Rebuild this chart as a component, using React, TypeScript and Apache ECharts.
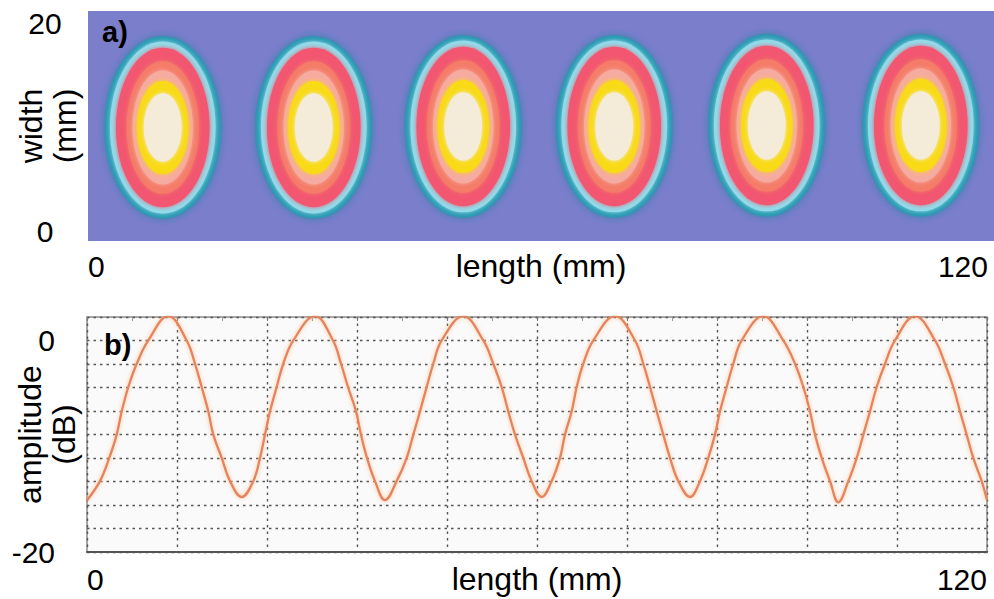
import React, { useEffect, useRef } from "react";
import * as echarts from "echarts";

// ---------- data ----------
// panel a: spot centres (mm) and ring half-axes (mm), outermost first
const spotX = [9.9, 29.9, 49.7, 69.7, 89.9, 110.3];
const spotY = [10.0, 10.0, 10.1, 10.1, 10.2, 10.2];
const ringRx = [7.7, 7.0, 6.2, 4.8, 4.0, 3.4, 2.5];
const ringRy = [8.8, 8.3, 7.7, 6.4, 5.5, 4.5, 3.3];
const ringColors = ["#2a9ab2", "#93dbe9", "#f2566f", "#f47c68", "#f6aba0", "#f8da14", "#f4ecd8"];

// panel b: amplitude (dB) along length (mm)
const lengthMm = [
  0, 1.73, 2.97, 3.96, 4.63, 5.51, 6.63, 8.17, 10.84,
  13.29, 14.4, 15.29, 16.17, 16.84, 17.96, 19.07, 20.63,
  22.17, 23.07, 23.73, 24.4, 25.29, 26.17, 27.51, 30.4,
  32.8, 33.87, 34.8, 35.87, 36.53, 37.33, 38.4, 39.73,
  41.29, 42.63, 43.51, 44.4, 45.29, 46.17, 47.29, 50.17,
  52.84, 54.17, 55.29, 56.17, 57.07, 58.17, 59.29, 60.63,
  61.95, 63.07, 63.73, 64.63, 65.29, 66.17, 67.51, 70.4,
  73.07, 74.17, 75.07, 75.96, 76.84, 77.73, 78.84, 80.4,
  81.73, 82.84, 83.73, 84.4, 85.29, 86.17, 87.29, 90.17,
  92.84, 94.4, 95.51, 96.4, 97.07, 97.96, 99.07, 100.17,
  101.51, 102.63, 103.51, 104.4, 105.29, 106.4, 107.73, 110.4,
  113.07, 114.4, 115.51, 116.4, 117.29, 118.17, 119.29, 120,
];
const amplitudeDb = [
  -15.1, -13.3, -11.1, -8.9, -6.7, -4.4, -2.2, 0, 2.3,
  0, -2.2, -4.4, -6.7, -8.9, -11.1, -13.3, -14.8,
  -13.3, -11.1, -8.9, -6.7, -4.4, -2.2, 0, 2.3,
  0, -2.2, -4.4, -6.7, -8.9, -11.1, -13.3, -15.1,
  -13.3, -11.1, -8.9, -6.7, -4.4, -2.2, 0, 2.3,
  0, -2.2, -4.4, -6.7, -8.9, -11.1, -13.3, -14.8,
  -13.3, -11.1, -8.9, -6.7, -4.4, -2.2, 0, 2.3,
  0, -2.2, -4.4, -6.7, -8.9, -11.1, -13.3, -14.8,
  -13.3, -11.1, -8.9, -6.7, -4.4, -2.2, 0, 2.3,
  0, -2.2, -4.4, -6.7, -8.9, -11.1, -13.3, -15.3,
  -13.3, -11.1, -8.9, -6.7, -4.4, -2.2, 0, 2.3,
  0, -2.2, -4.4, -6.7, -8.9, -11.1, -13.3, -15.1,
];

const xTicks = [0, 120];
const widthTicks = [0, 20];
const ampTicks = [0, -20];

const FONT = '"Liberation Sans", Arial, Helvetica, sans-serif';
const FS = 30;
const NAME_FS = 32;

export default function App() {
  const ref = useRef<HTMLDivElement>(null);

  useEffect(() => {
    if (!ref.current) return;
    const chart = echarts.init(ref.current, null, { renderer: "svg" });

    const labelBase = { color: "#000", fontFamily: FONT, fontSize: FS };
    const nameBase = { color: "#000", fontFamily: FONT, fontSize: NAME_FS };
    const dotted = { color: "#555", width: 1.4, type: [2.5, 4] as any };

    const option: any = {
      animation: false,
      backgroundColor: "#fff",
      grid: [
        {
          left: 88, top: 11, width: 906, height: 230,
          containLabel: false, outerBoundsMode: "none",
          show: true, backgroundColor: "#7b7ecb", borderWidth: 0,
        },
        {
          left: 87, top: 317, width: 900, height: 235,
          containLabel: false, outerBoundsMode: "none",
          show: true, backgroundColor: "#fafafb", borderColor: "#8c8c8c", borderWidth: 1.5,
        },
      ],
      xAxis: [
        {
          gridIndex: 0, type: "value", min: 0, max: 120,
          axisLine: { show: false, onZero: false }, axisTick: { show: false }, splitLine: { show: false },
          axisLabel: {
            ...labelBase, margin: 10, customValues: xTicks,
            alignMinLabel: "left", alignMaxLabel: "right", padding: [0, 6, 0, 0],
          },
          name: "length (mm)", nameLocation: "middle", nameGap: 9, nameMoveOverlap: false,
          nameTextStyle: { ...nameBase, verticalAlign: "top" },
        },
        {
          gridIndex: 1, type: "value", min: 0, max: 120,
          axisLine: { show: true, onZero: false, lineStyle: { color: "#555", width: 2 } },
          axisTick: { show: false }, splitLine: { show: false },
          axisLabel: {
            ...labelBase, margin: 12, customValues: xTicks,
            alignMinLabel: "left", alignMaxLabel: "right",
          },
          name: "length (mm)", nameLocation: "middle", nameGap: 11, nameMoveOverlap: false,
          nameTextStyle: { ...nameBase, verticalAlign: "top" },
        },
        {
          gridIndex: 1, type: "value", min: 0, max: 10, interval: 1,
          axisLine: { show: false, onZero: false },
          axisTick: { show: true, inside: true, length: 4, lineStyle: { color: "#777" } },
          minorTick: { show: true, splitNumber: 2, length: 4, lineStyle: { color: "#999" } },
          axisLabel: { show: false },
          splitLine: { show: true, lineStyle: dotted },
        },
      ],
      yAxis: [
        {
          gridIndex: 0, type: "value", min: -0.966, max: 21.256,
          axisLine: { show: false, onZero: false }, axisTick: { show: false }, splitLine: { show: false },
          axisLabel: { ...labelBase, margin: 43, align: "center", customValues: widthTicks },
          name: "width\n(mm)", nameLocation: "middle", nameGap: 6, nameRotate: 90, nameMoveOverlap: false,
          nameTextStyle: { ...nameBase, lineHeight: 34 },
        },
        {
          gridIndex: 1, type: "value", min: -20, max: 2.22,
          axisLine: { show: false, onZero: false }, axisTick: { show: false }, splitLine: { show: false },
          axisLabel: { ...labelBase, margin: 32, align: "right", customValues: ampTicks },
          name: "amplitude\n(dB)", nameLocation: "middle", nameGap: 6, nameRotate: 90, nameMoveOverlap: false,
          nameTextStyle: { ...nameBase, lineHeight: 34 },
        },
        {
          gridIndex: 1, type: "value", min: 0, max: 10, interval: 1,
          axisLine: { show: false, onZero: false }, axisTick: { show: false }, axisLabel: { show: false },
          splitLine: { show: true, lineStyle: dotted },
        },
      ],
      series: [
        {
          type: "custom",
          xAxisIndex: 0, yAxisIndex: 0,
          clip: true,
          data: spotX.map((x, i) => [x, spotY[i]]),
          renderItem: (params: any, api: any) => {
            const c = api.coord([api.value(0), api.value(1)]);
            const children = ringRx.map((rx, i) => {
              const s = api.size([rx, ringRy[i]]);
              return {
                type: "ellipse",
                shape: { cx: c[0], cy: c[1], rx: s[0], ry: s[1] },
                style: {
                  fill: ringColors[i],
                  shadowBlur: i === 0 ? 7 : 4,
                  shadowColor: i === 0 ? "rgba(30,130,160,0.85)" : ringColors[i],
                },
              };
            });
            return { type: "group", children };
          },
        },
        {
          type: "line",
          xAxisIndex: 1, yAxisIndex: 1,
          data: lengthMm.map((x, i) => [x, amplitudeDb[i]]),
          smooth: 0.4,
          symbol: "none",
          clip: true,
          lineStyle: {
            color: "#e3835e", width: 2.3,
            shadowColor: "rgba(255,185,130,0.9)", shadowBlur: 4,
          },
          z: 5,
        },
      ],
      graphic: [
        {
          type: "text", left: 102, top: 17, z: 100,
          style: { text: "a)", font: `bold 29px ${FONT}`, fill: "#000" },
        },
        {
          type: "text", left: 104, top: 330, z: 100,
          style: { text: "b)", font: `bold 29px ${FONT}`, fill: "#000" },
        },
      ],
    };

    chart.setOption(option);
    return () => chart.dispose();
  }, []);

  return (
    <div
      ref={ref}
      style={{ position: "fixed", left: 0, top: 0, width: 994, height: 599, background: "#fff" }}
    />
  );
}
